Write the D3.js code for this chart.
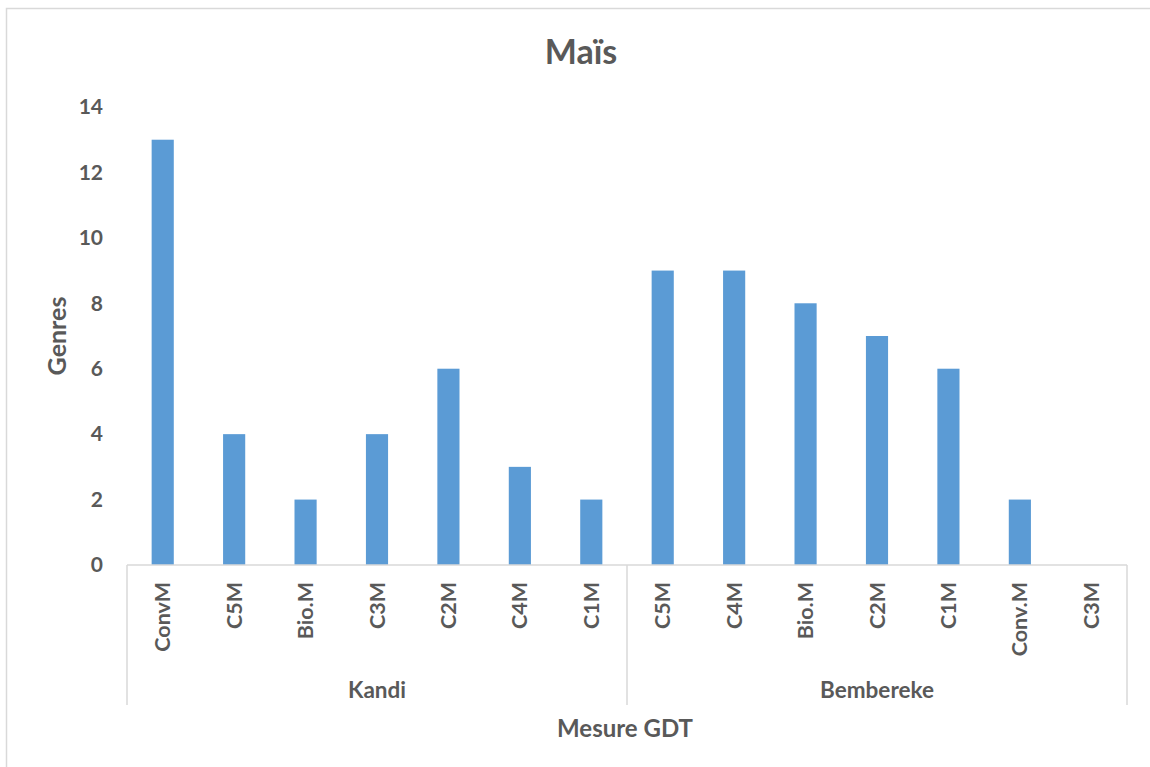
<!DOCTYPE html>
<html>
<head>
<meta charset="utf-8">
<script src="https://cdn.jsdelivr.net/npm/d3@7"></script>
<style>
  body { margin: 0; background: #fff; }
  text { font-family: Lato, "Open Sans", sans-serif; font-weight: bold; fill: #595959; }
</style>
</head>
<body>
<div id="chart"></div>
<script>
// data
const groups = ["Kandi", "Bembereke"];
const kandiCats = ["ConvM", "C5M", "Bio.M", "C3M", "C2M", "C4M", "C1M"];
const kandiVals = [13, 4, 2, 4, 6, 3, 2];
const bembCats = ["C5M", "C4M", "Bio.M", "C2M", "C1M", "Conv.M", "C3M"];
const bembVals = [9, 9, 8, 7, 6, 2, 0];
const yTicks = [0, 2, 4, 6, 8, 10, 12, 14];

const rows = kandiCats.map((c, i) => ({ group: groups[0], cat: c, value: kandiVals[i] }))
    .concat(bembCats.map((c, i) => ({ group: groups[1], cat: c, value: bembVals[i] })));
rows.forEach((d, i) => d.key = i);

const width = 1150, height = 767;
const plot = { left: 127, right: 1127, top: 107, bottom: 565 };

const svg = d3.select("#chart").append("svg")
    .attr("width", width)
    .attr("height", height);

// outer frame
svg.append("rect")
    .attr("x", 6.5).attr("y", 8.5)
    .attr("width", width + 10).attr("height", height + 10)
    .attr("fill", "none")
    .attr("stroke", "#d9d9d9")
    .attr("stroke-width", 1.5);

const x = d3.scaleBand()
    .domain(rows.map(d => d.key))
    .range([plot.left, plot.right])
    .paddingInner(0.69)
    .paddingOuter(0.345);

const y = d3.scaleLinear()
    .domain([0, 14])
    .range([plot.bottom, plot.top]);

// y labels
svg.append("g")
    .selectAll("text")
    .data(yTicks)
    .join("text")
    .attr("x", 103)
    .attr("y", d => y(d))
    .attr("dy", "0.35em")
    .attr("text-anchor", "end")
    .style("font-size", "21px")
    .text(d => d);

// bars
svg.append("g")
    .selectAll("rect")
    .data(rows)
    .join("rect")
    .attr("x", d => x(d.key))
    .attr("y", d => y(d.value))
    .attr("width", x.bandwidth())
    .attr("height", d => y(0) - y(d.value))
    .attr("fill", "#5b9bd5");

// category axis lines
const axis = svg.append("g")
    .attr("stroke", "#d9d9d9")
    .attr("stroke-width", 1.5);

axis.append("line")
    .attr("x1", plot.left).attr("x2", plot.right)
    .attr("y1", plot.bottom).attr("y2", plot.bottom);

const sepIdx = [0, kandiCats.length, rows.length];
axis.selectAll(".sep")
    .data(sepIdx)
    .join("line")
    .attr("class", "sep")
    .attr("x1", i => plot.left + i * x.step())
    .attr("x2", i => plot.left + i * x.step())
    .attr("y1", plot.bottom)
    .attr("y2", 705);

// category labels
svg.append("g")
    .selectAll("text")
    .data(rows)
    .join("text")
    .attr("transform", d => `translate(${x(d.key) + x.bandwidth() / 2},582) rotate(-90)`)
    .attr("dy", "0.35em")
    .attr("text-anchor", "end")
    .style("font-size", "21.5px")
    .text(d => d.cat);

// group labels
const groupCounts = [kandiCats.length, bembCats.length];
svg.append("g")
    .selectAll("text")
    .data(groups)
    .join("text")
    .attr("x", (g, i) => plot.left + (sepIdx[i] + groupCounts[i] / 2) * x.step())
    .attr("y", 698)
    .attr("text-anchor", "middle")
    .style("font-size", "22.5px")
    .text(d => d);

// title
svg.append("text")
    .attr("x", 581)
    .attr("y", 64)
    .attr("text-anchor", "middle")
    .style("font-size", "34px")
    .text("Maïs");

// axis titles
svg.append("text")
    .attr("x", (plot.left + plot.right) / 2 - 2)
    .attr("y", 737)
    .attr("text-anchor", "middle")
    .style("font-size", "24px")
    .text("Mesure GDT");

svg.append("text")
    .attr("transform", "translate(57,336) rotate(-90)")
    .attr("dy", "0.35em")
    .attr("text-anchor", "middle")
    .style("font-size", "25px")
    .text("Genres");
</script>
</body>
</html>
